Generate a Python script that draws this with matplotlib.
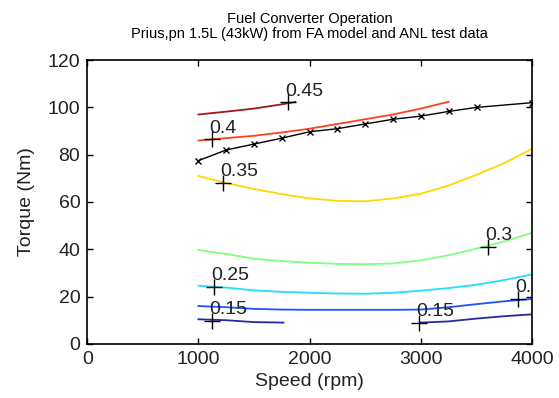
import matplotlib
matplotlib.use("Agg")
import matplotlib.pyplot as plt

plt.rcParams['font.family'] = ['Liberation Sans', 'DejaVu Sans']

# Max torque curve
max_speed = [1000, 1250, 1500, 1750, 2000, 2250, 2500, 2750, 3000, 3250, 3500, 4000]
max_torque = [77.5, 82, 84.5, 87, 89.7, 91, 93, 95, 96.3, 98.3, 100, 102]

# Efficiency contour lines (speed, torque)
eff_levels = ["0.45", "0.4", "0.35", "0.3", "0.25", "0.2", "0.15", "0.15"]
eff_colors = ["#a01818", "#ff4020", "#ffd800", "#80ff80", "#20e0ff", "#2050ff", "#2828a0", "#2828a0"]
eff_speed = [
    [1000, 1250, 1500, 1750, 1870],
    [1000, 1250, 1500, 1750, 2000, 2250, 2500, 2750, 3000, 3250],
    [1000, 1250, 1500, 1750, 2000, 2250, 2500, 2750, 3000, 3250, 3500, 3750, 4000],
    [1000, 1250, 1500, 1750, 2000, 2250, 2500, 2750, 3000, 3250, 3500, 3750, 4000],
    [1000, 1250, 1500, 1750, 2000, 2250, 2500, 2750, 3000, 3250, 3500, 3750, 4000],
    [1000, 1250, 1500, 1750, 2000, 2250, 2500, 2750, 3000, 3250, 3500, 3750, 4000],
    [1000, 1250, 1500, 1765],
    [3000, 3250, 3500, 3750, 4000],
]
eff_torque = [
    [97.0, 98.2, 99.5, 101.3, 102.3],
    [86.0, 87.0, 88.0, 89.4, 91.0, 93.0, 95.0, 97.0, 99.5, 102.4],
    [71.0, 68.0, 65.5, 63.3, 61.5, 60.5, 60.3, 61.5, 63.5, 67.0, 71.5, 76.5, 82.5],
    [39.7, 38.0, 36.0, 35.0, 34.3, 33.8, 33.7, 34.0, 35.3, 37.5, 40.3, 43.3, 47.0],
    [24.6, 23.8, 22.6, 22.0, 21.6, 21.3, 21.2, 21.6, 22.5, 23.6, 25.0, 27.0, 29.4],
    [16.0, 15.5, 14.8, 14.5, 14.4, 14.4, 14.4, 14.4, 14.5, 15.5, 16.8, 18.0, 19.0],
    [10.4, 10.0, 9.2, 9.0],
    [9.0, 9.5, 10.7, 11.7, 12.5],
]

# Contour label positions
lab_text = ["0.45", "0.4", "0.35", "0.3", "0.25", "0.2", "0.15", "0.15"]
lab_x = [1807, 1124, 1220, 3607, 1136, 3877, 1126, 2987]
lab_y = [102.1, 86.5, 68.1, 41.1, 24.0, 18.9, 9.7, 9.0]

xticks = [0, 1000, 2000, 3000, 4000]
yticks = [0, 20, 40, 60, 80, 100, 120]

fig = plt.figure(figsize=(5.59, 3.98), dpi=100)
ax = fig.add_axes([0.156, 0.136, 0.796, 0.713])

for xs, ys, c in zip(eff_speed, eff_torque, eff_colors):
    ax.plot(xs, ys, color=c, lw=1.3)

ax.plot(max_speed, max_torque, color='black', lw=1.0, marker='x', ms=5, mew=1.0)

for t, x, y in zip(lab_text, lab_x, lab_y):
    ax.plot([x], [y], marker='+', color='black', ms=11, mew=1.0)
    ax.annotate(t, (x, y), xytext=(-2, 2), textcoords='offset points',
                ha='left', va='bottom', fontsize=14, color='#222222',
                annotation_clip=False, clip_on=True)

ax.set_xlim(0, 4000)
ax.set_ylim(0, 120)
ax.set_xticks(xticks)
ax.set_yticks(yticks)
ax.tick_params(direction='in', length=4, width=1, labelsize=14,
               top=True, right=True, pad=5, labelcolor='#222222')
for s in ax.spines.values():
    s.set_linewidth(1.2)
ax.set_xlabel("Speed (rpm)", fontsize=14, labelpad=4, color='#222222')
ax.set_ylabel("Torque (Nm)", fontsize=14, labelpad=9, color='#222222')
ax.set_title("Fuel Converter Operation\nPrius,pn 1.5L (43kW) from FA model and ANL test data",
             fontsize=10.5, pad=16, linespacing=1.05)

fig.savefig("out.png", dpi=100)
